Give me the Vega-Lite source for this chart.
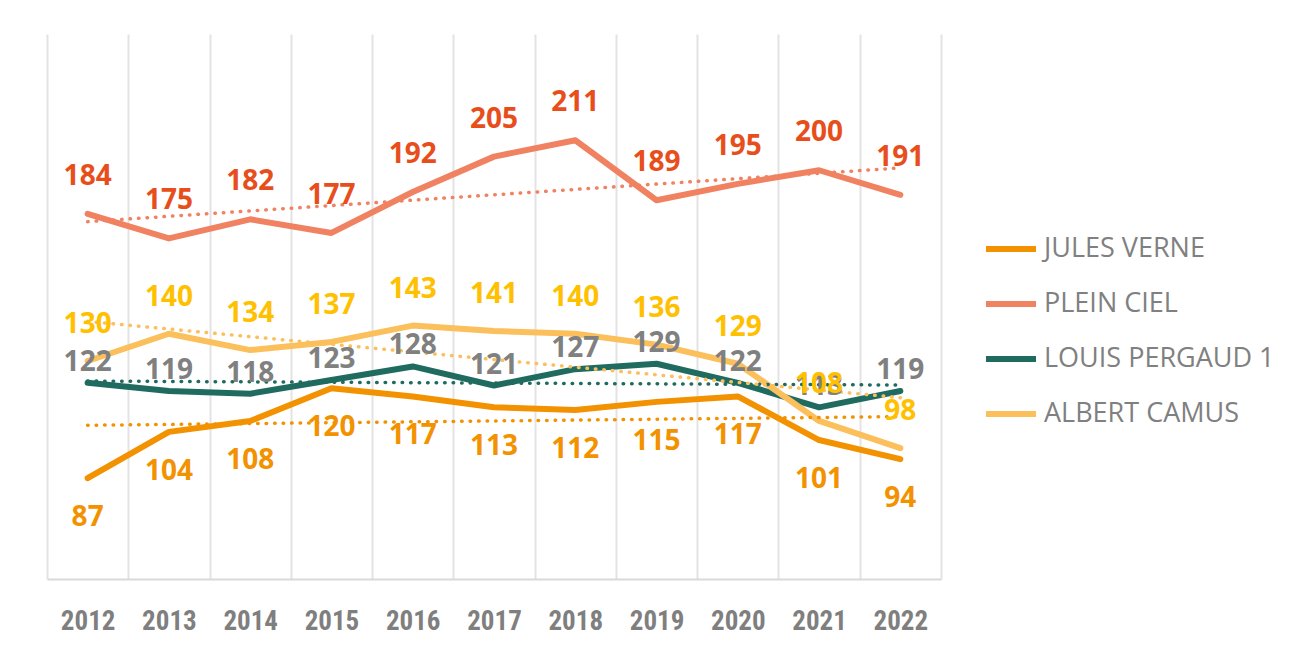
{
  "$schema": "https://vega.github.io/schema/vega-lite/v6.json",
  "width": 894,
  "height": 545,
  "autosize": {"type": "none"},
  "padding": {"left": 47, "top": 34, "right": 350, "bottom": 72},
  "background": "white",
  "config": {
    "view": {"stroke": null},
    "font": "Open Sans",
    "legend": {
      "orient": "none",
      "legendX": 936,
      "legendY": 187,
      "symbolType": "stroke",
      "symbolSize": 2500,
      "symbolStrokeWidth": 6,
      "labelFontSize": 27,
      "labelColor": "#808080",
      "labelFont": "Open Sans",
      "rowPadding": 14,
      "padding": 0,
      "labelOffset": 5,
      "labelLimit": 400
    }
  },
  "data": {
    "values": [
      {"year": 2012, "school": "JULES VERNE", "value": 87},
      {"year": 2013, "school": "JULES VERNE", "value": 104},
      {"year": 2014, "school": "JULES VERNE", "value": 108},
      {"year": 2015, "school": "JULES VERNE", "value": 120},
      {"year": 2016, "school": "JULES VERNE", "value": 117},
      {"year": 2017, "school": "JULES VERNE", "value": 113},
      {"year": 2018, "school": "JULES VERNE", "value": 112},
      {"year": 2019, "school": "JULES VERNE", "value": 115},
      {"year": 2020, "school": "JULES VERNE", "value": 117},
      {"year": 2021, "school": "JULES VERNE", "value": 101},
      {"year": 2022, "school": "JULES VERNE", "value": 94},
      {"year": 2012, "school": "PLEIN CIEL", "value": 184},
      {"year": 2013, "school": "PLEIN CIEL", "value": 175},
      {"year": 2014, "school": "PLEIN CIEL", "value": 182},
      {"year": 2015, "school": "PLEIN CIEL", "value": 177},
      {"year": 2016, "school": "PLEIN CIEL", "value": 192},
      {"year": 2017, "school": "PLEIN CIEL", "value": 205},
      {"year": 2018, "school": "PLEIN CIEL", "value": 211},
      {"year": 2019, "school": "PLEIN CIEL", "value": 189},
      {"year": 2020, "school": "PLEIN CIEL", "value": 195},
      {"year": 2021, "school": "PLEIN CIEL", "value": 200},
      {"year": 2022, "school": "PLEIN CIEL", "value": 191},
      {"year": 2012, "school": "LOUIS PERGAUD 1", "value": 122},
      {"year": 2013, "school": "LOUIS PERGAUD 1", "value": 119},
      {"year": 2014, "school": "LOUIS PERGAUD 1", "value": 118},
      {"year": 2015, "school": "LOUIS PERGAUD 1", "value": 123},
      {"year": 2016, "school": "LOUIS PERGAUD 1", "value": 128},
      {"year": 2017, "school": "LOUIS PERGAUD 1", "value": 121},
      {"year": 2018, "school": "LOUIS PERGAUD 1", "value": 127},
      {"year": 2019, "school": "LOUIS PERGAUD 1", "value": 129},
      {"year": 2020, "school": "LOUIS PERGAUD 1", "value": 122},
      {"year": 2021, "school": "LOUIS PERGAUD 1", "value": 113},
      {"year": 2022, "school": "LOUIS PERGAUD 1", "value": 119},
      {"year": 2012, "school": "ALBERT CAMUS", "value": 130},
      {"year": 2013, "school": "ALBERT CAMUS", "value": 140},
      {"year": 2014, "school": "ALBERT CAMUS", "value": 134},
      {"year": 2015, "school": "ALBERT CAMUS", "value": 137},
      {"year": 2016, "school": "ALBERT CAMUS", "value": 143},
      {"year": 2017, "school": "ALBERT CAMUS", "value": 141},
      {"year": 2018, "school": "ALBERT CAMUS", "value": 140},
      {"year": 2019, "school": "ALBERT CAMUS", "value": 136},
      {"year": 2020, "school": "ALBERT CAMUS", "value": 129},
      {"year": 2021, "school": "ALBERT CAMUS", "value": 108},
      {"year": 2022, "school": "ALBERT CAMUS", "value": 98}
    ]
  },
  "encoding": {
    "x": {
      "field": "year",
      "type": "ordinal",
      "bandPosition": 0.5,
      "scale": {
        "type": "band",
        "domain": [2012, 2013, 2014, 2015, 2016, 2017, 2018, 2019, 2020, 2021, 2022],
        "paddingInner": 0,
        "paddingOuter": 0
      },
      "axis": {
        "title": null,
        "tickBand": "extent",
        "grid": true,
        "gridColor": "#E3E3E3",
        "gridWidth": 2,
        "ticks": false,
        "domainColor": "#D9D9D9",
        "domainWidth": 2,
        "labelAngle": 0,
        "labelFont": "Roboto Condensed, DejaVu Sans Condensed, Roboto, sans-serif",
        "labelFontWeight": "bold",
        "labelFontSize": 27,
        "labelColor": "#7F7F7F",
        "labelPadding": 29
      }
    },
    "y": {
      "field": "value",
      "type": "quantitative",
      "scale": {"domain": [50, 250], "nice": false, "zero": false},
      "axis": null
    }
  },
  "layer": [
    {
      "mark": {"type": "line", "strokeWidth": 6, "strokeCap": "round", "strokeJoin": "round"},
      "encoding": {
        "color": {
          "field": "school",
          "type": "nominal",
          "scale": {
            "domain": ["JULES VERNE", "PLEIN CIEL", "LOUIS PERGAUD 1", "ALBERT CAMUS"],
            "range": ["#F39200", "#F08262", "#1F6B5F", "#FBBF5C"]
          },
          "legend": {"title": null}
        }
      }
    },
    {
      "transform": [{"regression": "value", "on": "year", "groupby": ["school"]}],
      "mark": {"type": "line", "strokeWidth": 3.5, "strokeDash": [0.5, 8], "strokeCap": "round"},
      "encoding": {
        "color": {"field": "school", "type": "nominal", "legend": null}
      }
    },
    {
      "transform": [{"filter": {"field": "school", "equal": "JULES VERNE"}}],
      "mark": {"type": "text", "fontWeight": "bold", "fontSize": 28, "dy": 40, "color": "#F39200", "font": "Open Sans"},
      "encoding": {"text": {"field": "value", "type": "quantitative"}}
    },
    {
      "transform": [{"filter": {"field": "school", "equal": "PLEIN CIEL"}}],
      "mark": {"type": "text", "fontWeight": "bold", "fontSize": 28, "dy": -37, "color": "#E84E1B", "font": "Open Sans"},
      "encoding": {"text": {"field": "value", "type": "quantitative"}}
    },
    {
      "transform": [{"filter": {"field": "school", "equal": "LOUIS PERGAUD 1"}}],
      "mark": {"type": "text", "fontWeight": "bold", "fontSize": 28, "dy": -20, "color": "#808080", "font": "Open Sans"},
      "encoding": {"text": {"field": "value", "type": "quantitative"}}
    },
    {
      "transform": [{"filter": {"field": "school", "equal": "ALBERT CAMUS"}}],
      "mark": {"type": "text", "fontWeight": "bold", "fontSize": 28, "dy": -36, "color": "#FFC000", "font": "Open Sans"},
      "encoding": {"text": {"field": "value", "type": "quantitative"}}
    }
  ]
}
